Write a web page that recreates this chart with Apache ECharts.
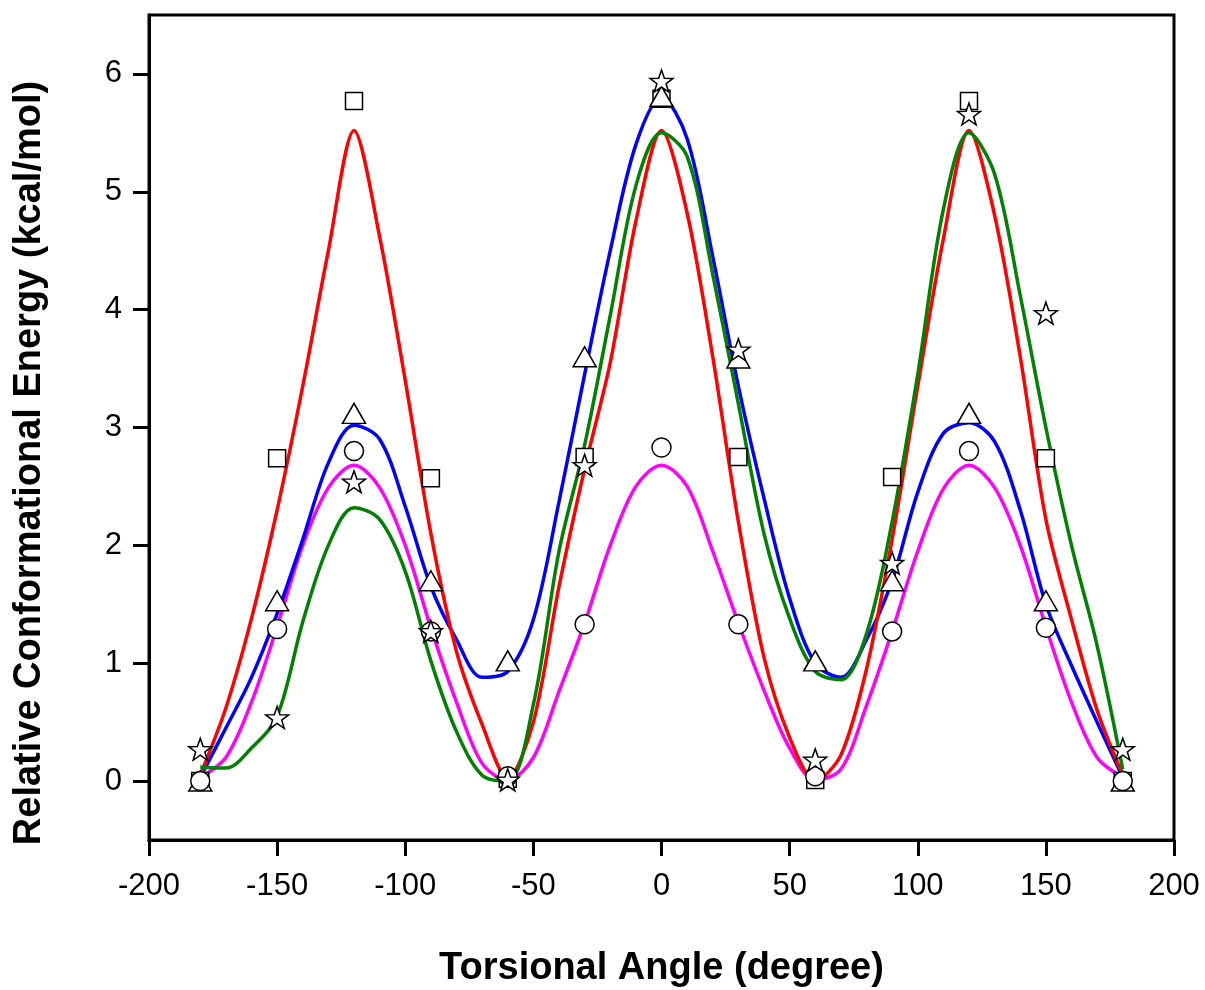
<!DOCTYPE html>
<html>
<head>
<meta charset="utf-8">
<script src="https://cdn.jsdelivr.net/npm/echarts@6/dist/echarts.min.js"></script>
<style>
html,body{margin:0;padding:0;background:#fff;}
#chart{width:1205px;height:990px;}
</style>
</head>
<body>
<div id="chart"></div>
<script>
// ---- data ----
const markerAngles = [-180,-150,-120,-90,-60,-30,0,30,60,90,120,150,180];
const squareEnergy   = [0.00,2.74,5.77,2.57,0.02,2.75,5.79,2.75,0.01,2.58,5.77,2.74,0.00];
const triangleEnergy = [0.00,1.53,3.12,1.70,1.02,3.60,5.81,3.59,1.02,1.70,3.12,1.53,0.00];
const circleEnergy   = [0.00,1.29,2.80,1.27,0.04,1.33,2.83,1.33,0.04,1.27,2.80,1.30,0.00];
const starEnergy     = [0.27,0.54,2.54,1.27,0.01,2.68,5.94,3.66,0.18,1.85,5.66,3.97,0.27];

const curveAngles = [-180,-170,-160,-150,-140,-130,-120,-110,-100,-90,-80,-70,-60,-50,-40,-30,-20,-10,0,
                     10,20,30,40,50,60,70,80,90,100,110,120,130,140,150,160,170,180];
const redCurve     = [0.05,0.62,1.38,2.30,3.35,4.50,5.52,4.62,3.40,2.10,1.10,0.48,0.02,0.50,1.65,2.65,3.55,4.75,5.52,
                      4.82,3.60,2.20,1.05,0.37,0.00,0.22,0.95,2.05,3.35,4.60,5.52,4.80,3.60,2.22,1.37,0.60,0.05];
const blueCurve    = [0.03,0.45,0.88,1.42,2.05,2.70,3.02,2.90,2.33,1.65,1.20,0.88,0.93,1.37,2.37,3.45,4.50,5.40,5.80,
                      5.45,4.45,3.35,2.40,1.55,1.00,0.88,1.20,1.70,2.45,2.95,3.04,2.88,2.30,1.50,0.98,0.50,0.03];
const magentaCurve = [0.03,0.20,0.67,1.31,2.00,2.49,2.68,2.49,2.00,1.30,0.67,0.15,0.01,0.20,0.76,1.34,2.00,2.50,2.68,
                      2.50,1.95,1.34,0.77,0.28,0.01,0.10,0.64,1.27,1.95,2.48,2.68,2.49,2.00,1.31,0.67,0.20,0.03];
const greenCurve   = [0.12,0.11,0.28,0.55,1.35,2.00,2.32,2.22,1.78,1.02,0.42,0.05,0.00,0.65,1.95,2.85,3.95,5.05,5.50,
                      5.30,4.30,3.20,2.10,1.38,0.93,0.86,1.25,2.20,3.45,4.85,5.50,5.15,4.12,3.00,2.00,1.15,0.10];

const xTicks = [-200,-150,-100,-50,0,50,100,150,200];
const yTicks = [0,1,2,3,4,5,6];

// ---- helpers ----
function pairs(xs, ys){ return xs.map((x,i)=>[x, ys[i]]); }
function starPath(){
  let d = '';
  for (let i=0;i<10;i++){
    const a = (-90 + i*36) * Math.PI/180;
    const r = (i%2===0) ? 50 : 20;
    const px = (50 + r*Math.cos(a)).toFixed(2), py = (50 + r*Math.sin(a)).toFixed(2);
    d += (i===0 ? 'M' : 'L') + px + ' ' + py + ' ';
  }
  return 'path://' + d + 'Z';
}

const font = '"Liberation Sans", Arial, sans-serif';
const markerStyle = {color:'#ffffff', borderColor:'#000000', borderWidth:1.5, opacity:1};

function lineSeries(data, color, smooth){
  return {type:'line', data: pairs(curveAngles, data), showSymbol:false, smooth:smooth,
          lineStyle:{color:color, width:3.5}, z:2, silent:true};
}
function scatterSeries(data, symbol, size, z){
  return {type:'scatter', data: pairs(markerAngles, data), symbol:symbol, symbolSize:size,
          itemStyle: markerStyle, z:z, silent:true};
}

const chart = echarts.init(document.getElementById('chart'), null, {renderer:'canvas'});
chart.setOption({
  animation:false,
  backgroundColor:'#ffffff',
  grid:{left:149, right:31, top:15, bottom:150, show:true, borderColor:'#000', borderWidth:3,
        containLabel:false, outerBoundsMode:'none'},
  xAxis:{
    type:'value', min:-200, max:200, interval:50,
    axisLine:{show:true, onZero:false, lineStyle:{color:'#000', width:3}},
    axisTick:{show:true, inside:false, length:16, lineStyle:{color:'#000', width:3}},
    axisLabel:{color:'#000', fontSize:31, fontFamily:font, margin:31},
    splitLine:{show:false},
    name:'Torsional Angle (degree)', nameLocation:'middle', nameGap:110,
    nameTextStyle:{color:'#000', fontSize:38, fontWeight:'bold', fontFamily:font}
  },
  yAxis:{
    type:'value', min:-0.5, max:6.5,
    axisLine:{show:true, onZero:false, lineStyle:{color:'#000', width:3}},
    axisTick:{show:true, inside:false, length:16, customValues: yTicks, lineStyle:{color:'#000', width:3}},
    axisLabel:{color:'#000', fontSize:31, fontFamily:font, margin:27, customValues: yTicks},
    splitLine:{show:false}
  },
  graphic:[{
    type:'text', x:30, y:463, rotation:Math.PI/2,
    style:{text:'Relative Conformational Energy (kcal/mol)', fill:'#000', font:'bold 38px ' + font,
           align:'center', verticalAlign:'middle'}
  }],
  series:[
    lineSeries(magentaCurve,'#ff00ff',0.33),
    lineSeries(blueCurve,'#0000ff',0.33),
    lineSeries(redCurve,'#ff0000',0.3),
    lineSeries(greenCurve,'#008000',0.33),
    scatterSeries(squareEnergy,'rect',17,3),
    scatterSeries(triangleEnergy,'triangle',[23,20],4),
    scatterSeries(circleEnergy,'circle',19,5),
    scatterSeries(starEnergy,starPath(),[23,22],6)
  ]
});
</script>
</body>
</html>
